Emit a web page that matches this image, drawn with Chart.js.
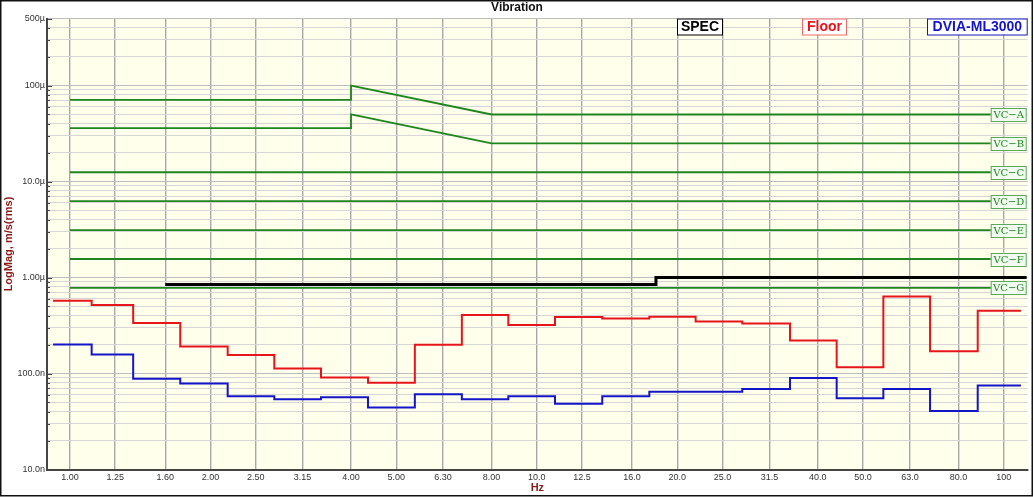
<!DOCTYPE html>
<html>
<head>
<meta charset="utf-8">
<script src="https://cdn.jsdelivr.net/npm/chart.js@4.4.1/dist/chart.umd.min.js"></script>
<style>
  html, body { margin: 0; padding: 0; background: #fff; }
  canvas { display: block; }
</style>
</head>
<body>
<canvas id="grafico" width="1034" height="497"></canvas>
<script>
// 1/3 octave bands - step edges (Hz)
const bandEdges = [0.92, 1.113, 1.366, 1.723, 2.177, 2.74, 3.45, 4.35, 5.48, 6.91, 8.69, 10.94, 13.81, 17.42, 21.89, 27.55, 34.86, 43.89, 55.25, 69.56, 88.0, 108.9]

// velocity per band, m/s(rms)
const floorVals = [574e-9, 517e-9, 337e-9, 191e-9, 156e-9, 113e-9, 91e-9, 80e-9, 199e-9, 407e-9, 321e-9, 388e-9, 374e-9, 390e-9, 349e-9, 333e-9, 221e-9, 116e-9, 633e-9, 171e-9, 452e-9]
const dviaVals = [201e-9, 158e-9, 88e-9, 78.5e-9, 58e-9, 54e-9, 56.5e-9, 44.3e-9, 61e-9, 54e-9, 58e-9, 48.3e-9, 58e-9, 64.4e-9, 64.4e-9, 69e-9, 90e-9, 55.3e-9, 69e-9, 40.7e-9, 75e-9]

// spec line
const specFreqs = [1.6, 18, 112]
const specVals = [0.845e-6, 1.0e-6, 1.0e-6]

// VC criteria curves
const vcNames = ['VC−A', 'VC−B', 'VC−C', 'VC−D', 'VC−E', 'VC−F', 'VC−G']
const vcFreqs = [[1, 4, 4, 8, 100], [1, 4, 4, 8, 100], [1, 100], [1, 100], [1, 100], [1, 100], [1, 100]]
const vcVals = [
  [71e-6, 71e-6, 100e-6, 50e-6, 50e-6],
  [36e-6, 36e-6, 50e-6, 25e-6, 25e-6],
  [12.5e-6, 12.5e-6],
  [6.25e-6, 6.25e-6],
  [3.12e-6, 3.12e-6],
  [1.56e-6, 1.56e-6],
  [0.78e-6, 0.78e-6]
]

// axes
const xTickVals = [1, 1.25, 1.6, 2, 2.5, 3.15, 4, 5, 6.3, 8, 10, 12.5, 16, 20, 25, 31.5, 40, 50, 63, 80, 100]
const xTickLabels = ['1.00', '1.25', '1.60', '2.00', '2.50', '3.15', '4.00', '5.00', '6.30', '8.00', '10.0', '12.5', '16.0', '20.0', '25.0', '31.5', '40.0', '50.0', '63.0', '80.0', '100']
const yLabelVals = [1e-8, 1e-7, 1e-6, 1e-5, 1e-4, 5e-4]
const yLabelTexts = ['10.0n', '100.0n', '1.00µ', '10.0µ', '100µ', '500µ']

const legendNames = ['SPEC', 'Floor', 'DVIA-ML3000']
const legendColors = ['#000000', '#e8141c', '#1414c8']

const FONT = '"Liberation Sans", Arial, sans-serif'
const VC_GREEN = '#1f861f'

// y grid: 1..9 of each decade up to 500µ
const yGridVals = []
for (let e = -8; e <= -4; e++) {
  for (let m = 1; m <= 9; m++) {
    const v = m * Math.pow(10, e)
    if (v <= 5.0001e-4) yGridVals.push(v)
  }
}
const yLabelFor = v => {
  const i = yLabelVals.findIndex(l => Math.abs(l - v) / l < 1e-6)
  return i >= 0 ? yLabelTexts[i] : ''
}

// step series: point i holds its value up to the next edge
const stepPoints = vals => bandEdges.map((f, i) => ({ x: f, y: vals[Math.min(i, vals.length - 1)] }))
const pairPoints = (fs, vs) => fs.map((f, i) => ({ x: f, y: vs[i] }))

const datasets = [
  { data: stepPoints(floorVals), borderColor: '#e8141c', borderWidth: 2, stepped: true },
  { data: stepPoints(dviaVals), borderColor: '#1414c8', borderWidth: 2, stepped: true },
  { data: pairPoints(specFreqs, specVals), borderColor: '#000000', borderWidth: 3, stepped: true }
]
vcNames.forEach((n, i) => {
  datasets.push({ label: n, data: pairPoints(vcFreqs[i], vcVals[i]), borderColor: VC_GREEN, borderWidth: 1.8 })
})

const decor = {
  id: 'decor',
  beforeDraw(chart) {
    const { ctx, chartArea: a } = chart
    ctx.save()
    ctx.fillStyle = '#ffffff'
    ctx.fillRect(0, 0, chart.width, chart.height)
    ctx.fillStyle = '#ffffec'
    ctx.fillRect(a.left, a.top, a.right - a.left, a.bottom - a.top)
    ctx.restore()
  },
  afterDraw(chart) {
    const { ctx, chartArea: a } = chart
    const ys = chart.scales.y
    ctx.save()

    // inward tick marks on the y axis
    ctx.strokeStyle = '#444'
    ctx.lineWidth = 1
    ys.ticks.forEach(t => {
      const py = Math.round(ys.getPixelForValue(t.value)) + 0.5
      const len = yLabelFor(t.value) ? 5 : 3
      ctx.beginPath()
      ctx.moveTo(a.left, py)
      ctx.lineTo(a.left + len, py)
      ctx.stroke()
    })

    // VC labels at the right end of each curve
    ctx.font = '10px "DejaVu Serif", "Liberation Serif", serif'
    ctx.textAlign = 'center'
    ctx.textBaseline = 'middle'
    vcNames.forEach((n, i) => {
      const vals = vcVals[i]
      const py = ys.getPixelForValue(vals[vals.length - 1])
      const x0 = a.right - 37, w = 35, h = 13
      ctx.fillStyle = '#f2fbef'
      ctx.fillRect(x0, py - h / 2, w, h)
      ctx.strokeStyle = '#5aa85a'
      ctx.lineWidth = 1
      ctx.strokeRect(x0 + 0.5, Math.round(py - h / 2) + 0.5, w, h)
      ctx.fillStyle = VC_GREEN
      ctx.fillText(n, x0 + w / 2 + 0.5, py + 1)
    })

    // legend boxes along the top
    const boxes = [[677, 722], [802, 846], [927, a.right - 1]]
    ctx.font = 'bold 14px ' + FONT
    legendNames.forEach((n, i) => {
      const [x0, x1] = boxes[i]
      ctx.fillStyle = '#ffffff'
      ctx.fillRect(x0, a.top, x1 - x0, 16)
      ctx.strokeStyle = i === 1 ? '#f06a6a' : legendColors[i]
      ctx.lineWidth = 1
      ctx.strokeRect(x0 + 0.5, a.top + 0.5, x1 - x0, 16)
      ctx.fillStyle = legendColors[i]
      ctx.fillText(n, (x0 + x1) / 2 + 0.5, a.top + 9)
    })

    // title and axis titles
    ctx.fillStyle = '#111'
    ctx.font = 'bold 12px ' + FONT
    ctx.fillText('Vibration', chart.width / 2, 7.5)
    ctx.fillStyle = '#8c1a1a'
    ctx.font = 'bold 11px ' + FONT
    ctx.fillText('Hz', (a.left + a.right) / 2, 488)
    ctx.translate(9, (a.top + a.bottom) / 2)
    ctx.rotate(-Math.PI / 2)
    ctx.fillText('LogMag, m/s(rms)', 0, 0)
    ctx.setTransform(1, 0, 0, 1, 0, 0)

    // frame around everything
    ctx.strokeStyle = '#111'
    ctx.lineWidth = 1.5
    ctx.strokeRect(0.75, 0.75, chart.width - 2.5, chart.height - 2)
    ctx.restore()
  }
}

new Chart(document.getElementById('grafico').getContext('2d'), {
  type: 'line',
  data: { datasets },
  options: {
    responsive: false,
    animation: false,
    devicePixelRatio: 1,
    layout: { padding: { top: 18.5, right: 6.3, bottom: 0, left: 0 } },
    elements: { point: { radius: 0 }, line: { fill: false, tension: 0 } },
    plugins: { legend: { display: false }, tooltip: { enabled: false }, title: { display: false } },
    scales: {
      x: {
        type: 'logarithmic',
        min: 0.893,
        max: 112.6,
        afterBuildTicks: s => { s.ticks = xTickVals.map(v => ({ value: v })) },
        afterFit: s => { s.height = 27.5 },
        ticks: { autoSkip: false, maxRotation: 0, padding: 3, color: '#333', font: { family: FONT, size: 9 }, callback: (v, i) => xTickLabels[i] },
        grid: { color: '#a8a8a8', lineWidth: 1.4, drawTicks: false },
        border: { color: '#444', width: 2 }
      },
      y: {
        type: 'logarithmic',
        min: 1e-8,
        max: 5e-4,
        afterBuildTicks: s => { s.ticks = yGridVals.map(v => ({ value: v })) },
        afterFit: s => { s.width = 47 },
        ticks: { autoSkip: false, padding: 2, color: '#333', font: { family: FONT, size: 9 }, callback: v => yLabelFor(v) },
        grid: { color: ctx => yLabelFor(ctx.tick.value) ? '#bdbdbd' : '#d6d6d6', lineWidth: 1, drawTicks: false },
        border: { color: '#444', width: 2 }
      }
    }
  },
  plugins: [decor]
})
</script>
</body>
</html>
